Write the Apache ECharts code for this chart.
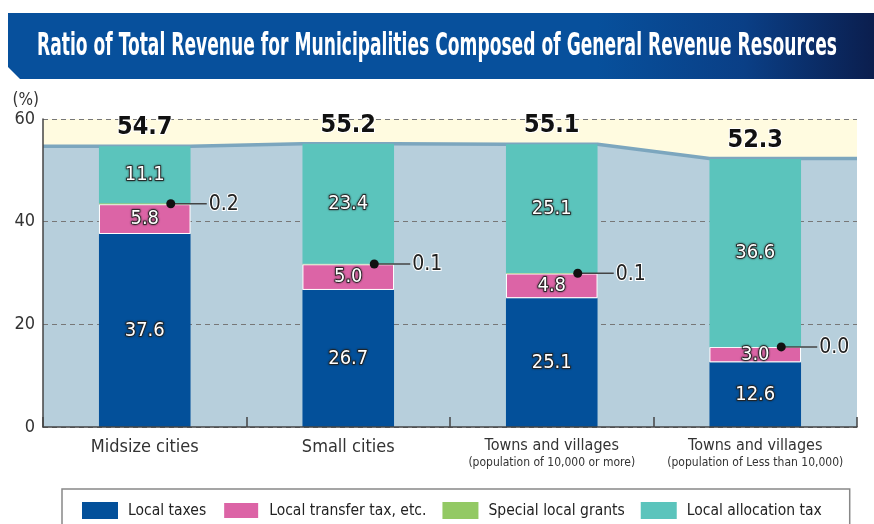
<!DOCTYPE html>
<html>
<head>
<meta charset="utf-8">
<script src="https://cdn.jsdelivr.net/npm/echarts@6/dist/echarts.min.js"></script>
<style>
  html, body { margin: 0; padding: 0; background: #fff; }
  #chart { width: 874px; height: 524px; }
</style>
</head>
<body>
<div id="chart"></div>
<script>
var categories = ['Midsize cities', 'Small cities',
  'Towns and villages\n(population of 10,000 or more)',
  'Towns and villages\n(population of Less than 10,000)'];
var localTaxes = [37.6, 26.7, 25.1, 12.6];
var transferTax = [5.8, 5.0, 4.8, 3.0];
var specialGrants = [0.2, 0.1, 0.1, 0.0];
var allocationTax = [11.1, 23.4, 25.1, 36.6];
var totals = [54.7, 55.2, 55.1, 52.3];
var yTicks = [0, 20, 40, 60];

var FONT = "'Liberation Sans Narrow', 'DejaVu Sans Condensed', 'Liberation Sans', sans-serif";
var TITLE = 'Ratio of Total Revenue for Municipalities Composed of General Revenue Resources';
var halfBar = 0.225;

// squeeze the title to the banner width (the original uses a very condensed face)
var ctx = document.createElement('canvas').getContext('2d');
ctx.font = 'bold 32px ' + FONT;
var titleScale = 800 / ctx.measureText(TITLE).width;

// outline of the total line: flat over each bar, sloping between bars
var totalLine = [];
for (var i = 0; i < totals.length; i++) {
  totalLine.push([i === 0 ? 0 : i + 0.5 - halfBar, totals[i]]);
  totalLine.push([i === totals.length - 1 ? totals.length : i + 0.5 + halfBar, totals[i]]);
}
var totalPts = totals.map(function (v, i) { return [i, v]; });
var grantPts = specialGrants.map(function (v, i) {
  return [i, localTaxes[i] + transferTax[i] + v / 2, v];
});

var segLabel = {
  show: true, position: 'inside', color: '#fff', fontSize: 20, fontFamily: FONT,
  textBorderColor: '#222', textBorderWidth: 1.5,
  textShadowColor: '#222', textShadowBlur: 2,
  formatter: function (p) { return p.value.toFixed(1); }
};

var myChart = echarts.init(document.getElementById('chart'));
var option = {
  animation: false,
  textStyle: { fontFamily: FONT },
  graphic: [
    {
      type: 'polygon', z: 10,
      shape: { points: [[8, 13], [874, 13], [874, 79], [20, 79], [8, 67]] },
      style: {
        fill: new echarts.graphic.LinearGradient(0, 0, 1, 0, [
          { offset: 0, color: '#07509c' },
          { offset: 0.68, color: '#07509c' },
          { offset: 0.85, color: '#0a3f86' },
          { offset: 1, color: '#0b1e4e' }
        ])
      }
    },
    {
      type: 'text', z: 11, x: 437, y: 47, scaleX: titleScale,
      style: {
        text: TITLE,
        fill: '#fff', fontSize: 32, fontWeight: 'bold', fontFamily: FONT,
        textAlign: 'center', textVerticalAlign: 'middle'
      }
    }
  ],
  grid: {
    left: 43, right: 17, top: 119, bottom: 97,
    show: true, backgroundColor: '#fffbe0', borderWidth: 0
  },
  legend: {
    left: 62, top: 489,
    data: ['Local taxes', 'Local transfer tax, etc.', 'Special local grants', 'Local allocation tax'],
    icon: 'rect', itemWidth: 36, itemHeight: 17, itemGap: 16,
    borderColor: '#888', borderWidth: 1.5, padding: [12, 28, 12, 20],
    textStyle: { fontSize: 15.5, color: '#222', fontFamily: FONT, padding: [0, 0, 0, 5] }
  },
  xAxis: [{
    type: 'category', data: categories, z: 3,
    axisLine: { lineStyle: { color: '#444', width: 1.5 } },
    axisTick: { show: true, inside: true, length: 10, lineStyle: { color: '#444', width: 1.5 } },
    axisLabel: {
      margin: 10, interval: 0, color: '#333',
      formatter: function (v) {
        var parts = v.split('\n');
        if (parts.length > 1) return '{a|' + parts[0] + '}\n{b|' + parts[1] + '}';
        return '{m|' + v + '}';
      },
      rich: {
        m: { fontSize: 18, lineHeight: 20, color: '#333', fontFamily: FONT },
        a: { fontSize: 16, lineHeight: 18, color: '#333', fontFamily: FONT },
        b: { fontSize: 12, lineHeight: 16, color: '#333', fontFamily: FONT }
      }
    }
  }, {
    type: 'value', min: 0, max: categories.length, show: false
  }],
  yAxis: {
    type: 'value', min: yTicks[0], max: yTicks[yTicks.length - 1], interval: 20, z: 1.5,
    name: '(%)', nameLocation: 'end', nameGap: 10,
    nameTextStyle: { fontSize: 17, color: '#333', align: 'right', padding: [0, 4, 0, 0] },
    axisLine: { show: true, lineStyle: { color: '#444', width: 1.5 } },
    axisTick: { show: false },
    axisLabel: { fontSize: 18, color: '#333', margin: 8 },
    splitLine: { lineStyle: { color: '#777', type: [5, 4], width: 1 } }
  },
  series: [
    {
      type: 'line', xAxisIndex: 1, data: totalLine, z: 1, symbol: 'none',
      lineStyle: { color: '#7ca6be', width: 3.5 },
      areaStyle: { color: '#b7cfdc', opacity: 1 }, silent: true
    },
    {
      name: 'Local taxes', type: 'bar', stack: 'a', barWidth: '45%', data: localTaxes,
      itemStyle: { color: '#03509a' }, label: segLabel
    },
    {
      name: 'Local transfer tax, etc.', type: 'bar', stack: 'a', data: transferTax,
      itemStyle: { color: '#dc64a6', borderColor: '#fff', borderWidth: 1 }, label: segLabel
    },
    {
      name: 'Special local grants', type: 'bar', stack: 'a', data: specialGrants,
      itemStyle: { color: '#93c964' }
    },
    {
      name: 'Local allocation tax', type: 'bar', stack: 'a', data: allocationTax,
      itemStyle: { color: '#5bc4bc' }, label: segLabel
    },
    {
      type: 'scatter', data: totalPts, symbolSize: 0, z: 5,
      itemStyle: { opacity: 1 },
      label: {
        show: true, position: 'top', distance: 6,
        fontSize: 25, fontWeight: 'bold', color: '#111', fontFamily: FONT,
        textBorderColor: '#fff', textBorderWidth: 2,
        formatter: function (p) { return p.value[1].toFixed(1); }
      }
    },
    {
      type: 'custom', data: grantPts, z: 6,
      renderItem: function (params, api) {
        var p = api.coord([api.value(0), api.value(1)]);
        return {
          type: 'group',
          children: [
            { type: 'line', shape: { x1: p[0] + 26, y1: p[1], x2: p[0] + 62, y2: p[1] },
              style: { stroke: '#444', lineWidth: 1.5 } },
            { type: 'circle', shape: { cx: p[0] + 26, cy: p[1], r: 4.5 }, style: { fill: '#111' } },
            { type: 'text', x: p[0] + 64, y: p[1] + 1,
              style: { text: api.value(2).toFixed(1), fill: '#222', stroke: '#fff', lineWidth: 2,
                fontSize: 21, fontFamily: FONT, textVerticalAlign: 'middle' } }
          ]
        };
      }
    }
  ]
};
myChart.setOption(option);
</script>
</body>
</html>
